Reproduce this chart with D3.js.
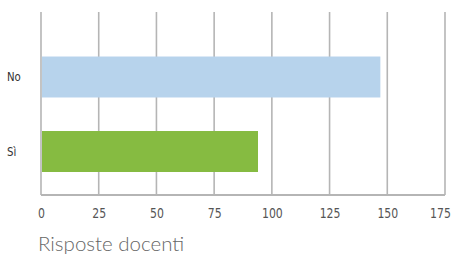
<!DOCTYPE html>
<html><head><meta charset="utf-8">
<script src="https://cdn.jsdelivr.net/npm/d3@7"></script>
<style>body{margin:0;background:#fff}svg{display:block}</style>
</head><body>
<svg id="c" width="452" height="258"></svg>
<script>
const categories = ["No", "Sì"];
const values = [147, 94];
const barColors = ["#b7d3ec", "#86bb41"];
const tickValues = [0, 25, 50, 75, 100, 125, 150, 175];
const title = "Risposte docenti";

(function () {
const svg = d3.select("#c");
const x = d3.scaleLinear().domain([0, 175]).range([41, 445]);
const y = d3.scaleBand().domain(categories).range([39.75, 188.75]).paddingInner(0.45).paddingOuter(0.225);
const plotTop = 12, plotBottom = 195;

// gridlines
svg.append("g").selectAll("line").data(tickValues).join("line")
  .attr("x1", d => x(d)).attr("x2", d => x(d))
  .attr("y1", plotTop).attr("y2", plotBottom)
  .attr("stroke", "#b5b5b5").attr("stroke-width", 1.6);
svg.append("line").attr("x1", x(0)).attr("x2", x(175)).attr("y1", plotBottom).attr("y2", plotBottom)
  .attr("stroke", "#b5b5b5").attr("stroke-width", 1.8);

// bars
svg.append("g").selectAll("rect").data(categories).join("rect")
  .attr("x", x(0) + 1).attr("y", d => y(d))
  .attr("width", (d, i) => x(values[i]) - x(0) - 1)
  .attr("height", y.bandwidth())
  .attr("fill", (d, i) => barColors[i]);

// category labels
svg.append("g").selectAll("text").data(categories).join("text")
  .attr("transform", d => `translate(7,${y(d) + y.bandwidth() / 2}) scale(0.85,1)`)
  .attr("dy", "0.35em")
  .attr("font-family", "'DejaVu Sans', sans-serif")
  .attr("font-size", 12).attr("fill", "#333")
  .text(d => d);

// x tick labels
const xAxis = d3.axisBottom(x).tickValues(tickValues).tickSize(0).tickPadding(0);
const gx = svg.append("g").attr("transform", `translate(0,${plotBottom})`).call(xAxis);
gx.select(".domain").remove();
gx.selectAll("text")
  .attr("y", 0).attr("dy", 0)
  .attr("transform", d => `translate(${d === 175 ? -5 : 0},23) scale(0.78,1)`)
  .attr("font-family", "'DejaVu Sans', sans-serif")
  .attr("font-size", 14).attr("fill", "#555");

// title
svg.append("text").attr("x", 38).attr("y", 251)
  .attr("font-family", "Lato, 'Open Sans', sans-serif").attr("font-weight", 300)
  .attr("font-size", 20.5).attr("fill", "#666")
  .text(title);
})();
</script>
</body></html>
